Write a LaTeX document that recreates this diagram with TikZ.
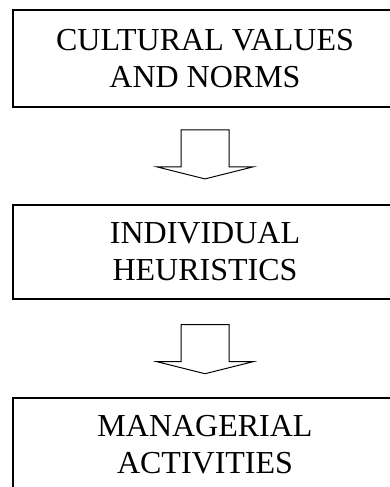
\documentclass[tikz,border=0pt]{standalone}
\usepackage{fontspec}
\setmainfont{Liberation Serif}
\usetikzlibrary{positioning}
\tikzset{box/.style={draw, line width=1.8pt, minimum width=384pt, align=center,
  font=\fontsize{32}{37}\selectfont},
  blockarrow/.style={draw, line width=1pt, fill=white, line join=miter}}
\begin{document}
\begin{tikzpicture}[x=1pt,y=-1pt]
\clip (0,0) rectangle (390,487);
\node [box, minimum height=97pt] (cult) at (205,58.5) {CULTURAL VALUES\\AND NORMS};
\node [box, minimum height=94pt, below=96pt of cult] (heur) {INDIVIDUAL\\HEURISTICS};
\node [box, minimum height=94pt, below=97pt of heur] (manag) {MANAGERIAL\\ACTIVITIES};
\coordinate [below=47pt of cult] (m1);
\coordinate [below=50pt of heur] (m2);
\foreach \m in {m1,m2}
  \draw [blockarrow, shift={(\m)}] (-24,-25) -- (-24,12) -- (-48,12) -- (0,24)
    -- (48,12) -- (24,12) -- (24,-25) -- cycle ;
\end{tikzpicture}
\end{document}
